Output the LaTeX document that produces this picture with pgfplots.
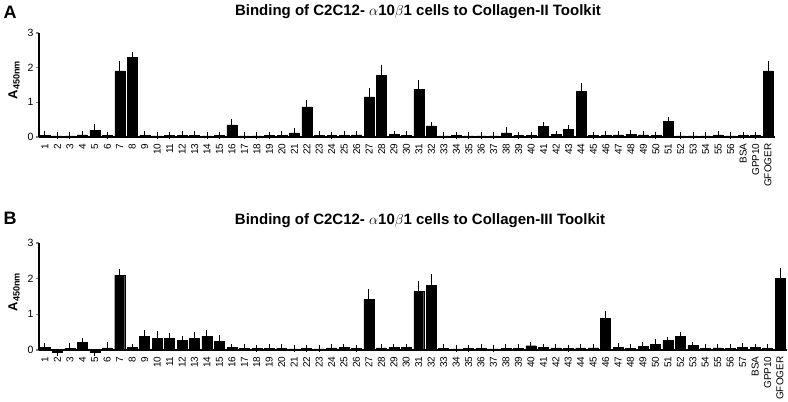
\documentclass[border=0pt]{standalone}
\usepackage{pgfplots}
\usepackage{pgfplotstable}
\pgfplotsset{compat=1.18}
\usepackage{fontspec}
\setmainfont{Liberation Sans}

% Collagen-II toolkit
\pgfplotstableread{
lab y e
1 0.05 0.01
2 0.03 0.01
3 0.03 0.01
4 0.06 0.01
5 0.20 0.07
6 0.04 0.01
7 1.91 0.19
8 2.30 0.05
9 0.05 0.01
10 0.03 0.01
11 0.04 0.01
12 0.05 0.01
13 0.05 0.01
14 0.03 0.01
15 0.04 0.01
16 0.35 0.08
17 0.03 0.01
18 0.03 0.01
19 0.04 0.01
20 0.05 0.01
21 0.12 0.04
22 0.87 0.09
23 0.05 0.01
24 0.04 0.01
25 0.05 0.01
26 0.06 0.01
27 1.16 0.16
28 1.78 0.21
29 0.07 0.01
30 0.05 0.01
31 1.375 0.175
32 0.32 0.01
33 0.03 0.01
34 0.04 0.01
35 0.03 0.01
36 0.03 0.01
37 0.03 0.01
38 0.12 0.07
39 0.04 0.01
40 0.04 0.01
41 0.30 0.03
42 0.07 0.01
43 0.22 0.03
44 1.31 0.16
45 0.04 0.01
46 0.05 0.01
47 0.06 0.01
48 0.08 0.01
49 0.06 0.01
50 0.04 0.01
51 0.46 0.02
52 0.03 0.01
53 0.03 0.01
54 0.03 0.01
55 0.06 0.01
56 0.03 0.01
BSA 0.04 0.01
GPP10 0.04 0.01
GFOGER 1.91 0.19
}\tabA

% Collagen-III toolkit
\pgfplotstableread{
lab y e
1 0.08 0.03
2 -0.07 0.01
3 0.05 0.06
4 0.22 0.01
5 -0.07 0.01
6 0.06 0.07
7 2.10 0.08
8 0.07 0.01
9 0.38 0.08
10 0.33 0.11
11 0.33 0.06
12 0.27 0.02
13 0.32 0.10
14 0.38 0.08
15 0.25 0.07
16 0.07 0.01
17 0.05 0.01
18 0.04 0.01
19 0.05 0.01
20 0.05 0.01
21 0.03 0.01
22 0.04 0.01
23 0.03 0.01
24 0.06 0.01
25 0.07 0.01
26 0.04 0.01
27 1.42 0.18
28 0.06 0.01
29 0.07 0.01
30 0.07 0.01
31 1.64 0.20
32 1.82 0.20
33 0.05 0.01
34 0.03 0.01
35 0.04 0.01
36 0.05 0.01
37 0.03 0.01
38 0.05 0.01
39 0.05 0.01
40 0.12 0.01
41 0.07 0.01
42 0.06 0.01
43 0.04 0.01
44 0.06 0.01
45 0.06 0.01
46 0.88 0.12
47 0.08 0.01
48 0.05 0.01
49 0.11 0.01
50 0.15 0.05
51 0.27 0.01
52 0.38 0.02
53 0.13 0.01
54 0.05 0.01
55 0.06 0.01
56 0.05 0.01
57 0.08 0.01
BSA 0.07 0.01
GPP10 0.05 0.01
GFOGER 2.00 0.19
}\tabB

\pgfplotsset{
  toolkit/.style={
    scale only axis,
    anchor=south west,
    clip=false,
    ymin=0, ymax=3,
    ytick={0,1,2,3},
    xmin=0.52,
    axis x line*=bottom,
    axis y line*=left,
    axis line style={line width=1.2pt},
    tick align=outside,
    major tick length=3pt,
    ytick style={line width=1.2pt},
    xtick style={draw=none},
    xtick=data,
    /pgf/number format/assume math mode=true,
    yticklabel style={font=\fontsize{10.5}{12}\selectfont, xshift=1pt},
    xticklabel style={rotate=90, anchor=east, font=\fontsize{10}{11}\selectfont},
  },
  bars/.style={ybar, bar width=0.8, fill=black, draw=black,
    error bars/.cd, y dir=plus, y explicit,
    error bar style={line width=1pt, black},
    error mark options={mark size=3.5pt, line width=1pt, black}},
}
\tikzset{
  panel/.style={font=\bfseries\fontsize{18}{20}\selectfont},
  ttl/.style={font=\bfseries\fontsize{15}{17}\selectfont},
  ylab/.style={rotate=90, font=\bfseries\fontsize{13}{15}\selectfont},
}

\begin{document}
\begin{tikzpicture}
\path[use as bounding box] (0,0) rectangle (788pt,402pt);

\node[panel] at (10pt,390pt) {A};
\node[ttl] at (418pt,390pt)
  {Binding of C2C12- $\alpha$10$\beta$1 cells to Collagen-II Toolkit};
\node[ylab] at (14pt,322pt) {A\textsubscript{450nm}};

\begin{axis}[toolkit, at={(39pt,265pt)}, width=736pt, height=104pt,
    xmax=59.56, xticklabels from table={\tabA}{lab}]
  \addplot[bars] table[x expr=\coordindex+1, y=y, y error=e] {\tabA};
\end{axis}

\node[panel] at (10pt,184pt) {B};
\node[ttl] at (420pt,181pt)
  {Binding of C2C12- $\alpha$10$\beta$1 cells to Collagen-III Toolkit};
\node[ylab] at (14pt,110pt) {A\textsubscript{450nm}};

\begin{axis}[toolkit, at={(39pt,52pt)}, width=748pt, height=107pt,
    xmax=60.56, xticklabels from table={\tabB}{lab}]
  \addplot[bars] table[x expr=\coordindex+1, y=y, y error=e] {\tabB};
\end{axis}
\end{tikzpicture}
\end{document}
